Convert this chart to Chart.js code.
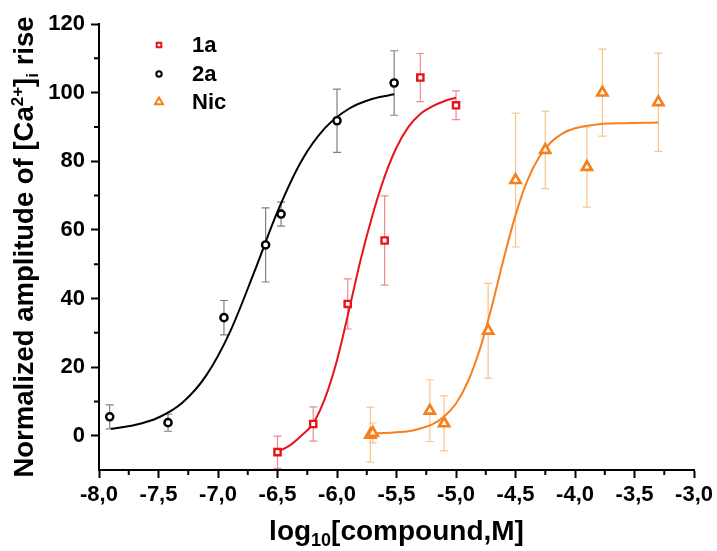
<!DOCTYPE html>
<html>
<head>
<meta charset="utf-8">
<script src="https://cdn.jsdelivr.net/npm/chart.js@4.4.1/dist/chart.umd.min.js"></script>
<style>
  body { margin: 0; background: #fff; }
  #wrap { width: 717px; height: 551px; }
</style>
</head>
<body>
<div id="wrap"><canvas id="dose-chart" width="717" height="551"></canvas></div>
<script>
// measured points (x = log10 concentration, y = normalized amplitude, e = error)
var x1a = [-6.50, -6.20, -5.91, -5.60, -5.30, -5.00];
var y1a = [-4.8, 3.4, 38.4, 56.9, 104.4, 96.3];
var e1a = [4.7, 5.0, 7.3, 13.0, 7.0, 4.2];

var x2a = [-7.91, -7.42, -6.95, -6.60, -6.47, -6.00, -5.52];
var y2a = [5.5, 3.8, 34.4, 55.6, 64.6, 91.8, 102.8];
var e2a = [3.5, 2.5, 5.0, 10.8, 3.5, 9.2, 9.4];

var xNic = [-5.72, -5.70, -5.22, -5.10, -4.73, -4.50, -4.25, -3.90, -3.77, -3.30];
var yNic = [0.3, 0.8, 7.3, 3.6, 30.6, 74.5, 83.3, 78.3, 100.0, 97.2];
var eNic = [8.0, 2.9, 9.0, 8.0, 13.8, 19.5, 11.3, 11.7, 12.7, 14.3];

// fitted curves
var fit2aX = [-7.90, -7.70, -7.50, -7.30, -7.10, -6.90, -6.70, -6.50, -6.30, -6.10, -5.90, -5.70, -5.52];
var fit2aY = [2.0, 3.1, 5.3, 9.6, 17.5, 30.2, 47.3, 65.3, 80.0, 89.7, 95.3, 98.2, 99.5];

var fit1aX = [-6.50, -6.40, -6.30, -6.20, -6.10, -6.00, -5.90, -5.80, -5.70, -5.60, -5.50, -5.40, -5.30, -5.20, -5.10, -5.00];
var fit1aY = [-4.7, -2.9, 0.0, 3.6, 11.0, 22.0, 36.5, 51.5, 64.5, 75.5, 84.0, 90.0, 93.8, 96.0, 97.5, 98.5];

var fitNicX = [-5.70, -5.60, -5.50, -5.40, -5.30, -5.20, -5.10, -5.00, -4.90, -4.80, -4.70, -4.60, -4.50,
  -4.40, -4.30, -4.20, -4.10, -4.00, -3.80, -3.60, -3.30];
var fitNicY = [0.7, 0.8, 1.0, 1.3, 2.1, 3.3, 5.6, 9.4, 15.8, 25.2, 37.6, 51.5, 64.3,
  74.4, 81.3, 85.6, 88.2, 89.6, 90.8, 91.1, 91.3];

var xMinorTicks = [-7.75, -7.25, -6.75, -6.25, -5.75, -5.25, -4.75, -4.25, -3.75, -3.25];
var yMinorTicks = [10, 30, 50, 70, 90, 110];

var RED = "#e8141c";
var BLACK = "#000000";
var ORANGE = "#f7801e";
var FONT = "'Liberation Sans', Arial, sans-serif";

function pts(xs, ys) {
  return xs.map(function (x, i) {
    return { x: x, y: ys[i] };
  });
}

function pointSet(label, xs, ys, errs, color, errColor, style, radius, bw) {
  return {
    label: label,
    data: pts(xs, ys),
    errors: errs,
    errColor: errColor,
    showLine: false,
    pointStyle: style,
    pointRadius: radius,
    pointHoverRadius: radius,
    pointBorderWidth: bw,
    pointBorderColor: color,
    pointBackgroundColor: "#ffffff",
    borderColor: color,
    order: 0,
  };
}

function curveSet(xs, ys, color) {
  return {
    label: "",
    data: pts(xs, ys),
    showLine: true,
    pointRadius: 0,
    borderColor: color,
    borderWidth: 2,
    cubicInterpolationMode: "monotone",
    fill: false,
    order: 1,
  };
}

// vertical error bars with caps, under everything else
var errorBars = {
  id: "errorBars",
  beforeDatasetsDraw: function (chart) {
    var ctx = chart.ctx;
    var xs = chart.scales.x;
    var ys = chart.scales.y;
    ctx.save();
    ctx.lineWidth = 1.2;
    chart.data.datasets.forEach(function (ds) {
      if (!ds.errors) return;
      ctx.strokeStyle = ds.errColor;
      ds.data.forEach(function (p, i) {
        var px = xs.getPixelForValue(p.x);
        var top = ys.getPixelForValue(p.y + ds.errors[i]);
        var bot = ys.getPixelForValue(p.y - ds.errors[i]);
        ctx.beginPath();
        ctx.moveTo(px, top);
        ctx.lineTo(px, bot);
        ctx.moveTo(px - 4, top);
        ctx.lineTo(px + 4, top);
        ctx.moveTo(px - 4, bot);
        ctx.lineTo(px + 4, bot);
        ctx.stroke();
      });
    });
    ctx.restore();
  },
};

// text made of pieces of different size (sub/superscripts), centred on x
function drawRich(ctx, parts, x, y) {
  var total = 0;
  parts.forEach(function (p) {
    ctx.font = "bold " + p.size + "px " + FONT;
    p.w = ctx.measureText(p.t).width;
    total += p.w;
  });
  var cx = x - total / 2;
  parts.forEach(function (p) {
    ctx.font = "bold " + p.size + "px " + FONT;
    ctx.fillText(p.t, cx, y + (p.dy || 0));
    cx += p.w;
  });
}

// minor ticks, legend and axis titles
var decorations = {
  id: "decorations",
  afterDraw: function (chart) {
    var ctx = chart.ctx;
    var xs = chart.scales.x;
    var ys = chart.scales.y;
    var area = chart.chartArea;
    ctx.save();
    ctx.strokeStyle = "#000";
    ctx.lineWidth = 2;
    ctx.beginPath();
    xMinorTicks.forEach(function (v) {
      var px = xs.getPixelForValue(v);
      ctx.moveTo(px, area.bottom);
      ctx.lineTo(px, area.bottom + 5);
    });
    yMinorTicks.forEach(function (v) {
      var py = ys.getPixelForValue(v);
      ctx.moveTo(area.left, py);
      ctx.lineTo(area.left - 5, py);
    });
    ctx.stroke();

    var rows = [
      { ds: chart.data.datasets[0], r: 3.2, y: 45 },
      { ds: chart.data.datasets[1], r: 2.7, y: 74 },
      { ds: chart.data.datasets[2], r: 4.6, y: 102 },
    ];
    rows.forEach(function (row) {
      ctx.strokeStyle = row.ds.pointBorderColor;
      ctx.fillStyle = "#fff";
      Chart.helpers.drawPoint(ctx, {
        pointStyle: row.ds.pointStyle,
        radius: row.r,
        borderWidth: 2.5,
        rotation: 0,
      }, 159, row.y);
      ctx.fillStyle = "#000";
      ctx.font = "bold 22px " + FONT;
      ctx.textAlign = "left";
      ctx.textBaseline = "middle";
      ctx.fillText(row.ds.label, 192, row.y + 1);
    });

    ctx.fillStyle = "#000";
    ctx.textAlign = "left";
    ctx.textBaseline = "alphabetic";
    drawRich(ctx, [
      { t: "log", size: 28 },
      { t: "10", size: 18, dy: 6 },
      { t: "[compound,M]", size: 28 },
    ], (area.left + area.right) / 2, 540);

    ctx.translate(33, (area.top + area.bottom) / 2);
    ctx.rotate(-Math.PI / 2);
    drawRich(ctx, [
      { t: "Normalized amplitude of [Ca", size: 27.5 },
      { t: "2+", size: 17, dy: -10 },
      { t: "]", size: 27.5 },
      { t: "i", size: 17, dy: 5 },
      { t: " rise", size: 27.5 },
    ], 0, 0);
    ctx.restore();
  },
};

var tickFont = { family: FONT, size: 22, weight: "bold" };

var ctx = document.getElementById("dose-chart").getContext("2d");
var chart = new Chart(ctx, {
  type: "scatter",
  data: {
    datasets: [
      pointSet("1a", x1a, y1a, e1a, RED, "#f08a8f", "rect", 4.4, 2.4),
      pointSet("2a", x2a, y2a, e2a, BLACK, "#808080", "circle", 3.6, 2.4),
      pointSet("Nic", xNic, yNic, eNic, ORANGE, "#f7c48e", "triangle", 5.8, 2.7),
      curveSet(fit2aX, fit2aY, BLACK),
      curveSet(fit1aX, fit1aY, RED),
      curveSet(fitNicX, fitNicY, ORANGE),
    ],
  },
  options: {
    responsive: false,
    animation: false,
    devicePixelRatio: 1,
    layout: { padding: { left: 0, right: 20, top: 24, bottom: 0 } },
    plugins: {
      legend: { display: false },
      tooltip: { enabled: false },
    },
    scales: {
      x: {
        type: "linear",
        min: -8,
        max: -3,
        afterFit: function (scale) {
          scale.height = 81;
        },
        ticks: {
          stepSize: 0.5,
          color: "#000",
          font: tickFont,
          padding: 4,
          maxRotation: 0,
          autoSkip: false,
          callback: function (v) {
            return v.toFixed(1).replace(".", ",");
          },
        },
        grid: {
          drawOnChartArea: false,
          drawTicks: true,
          tickLength: 8,
          tickWidth: 2,
          tickColor: "#000",
        },
        border: { display: true, color: "#000", width: 2 },
      },
      y: {
        type: "linear",
        min: -10,
        max: 120,
        afterFit: function (scale) {
          scale.width = 99;
        },
        afterBuildTicks: function (scale) {
          scale.ticks = scale.ticks.filter(function (t) {
            return t.value >= 0;
          });
        },
        ticks: {
          stepSize: 20,
          color: "#000",
          font: tickFont,
          padding: 6,
        },
        grid: {
          drawOnChartArea: false,
          drawTicks: true,
          tickLength: 8,
          tickWidth: 2,
          tickColor: "#000",
        },
        border: { display: true, color: "#000", width: 2 },
      },
    },
  },
  plugins: [errorBars, decorations],
});
</script>
</body>
</html>
